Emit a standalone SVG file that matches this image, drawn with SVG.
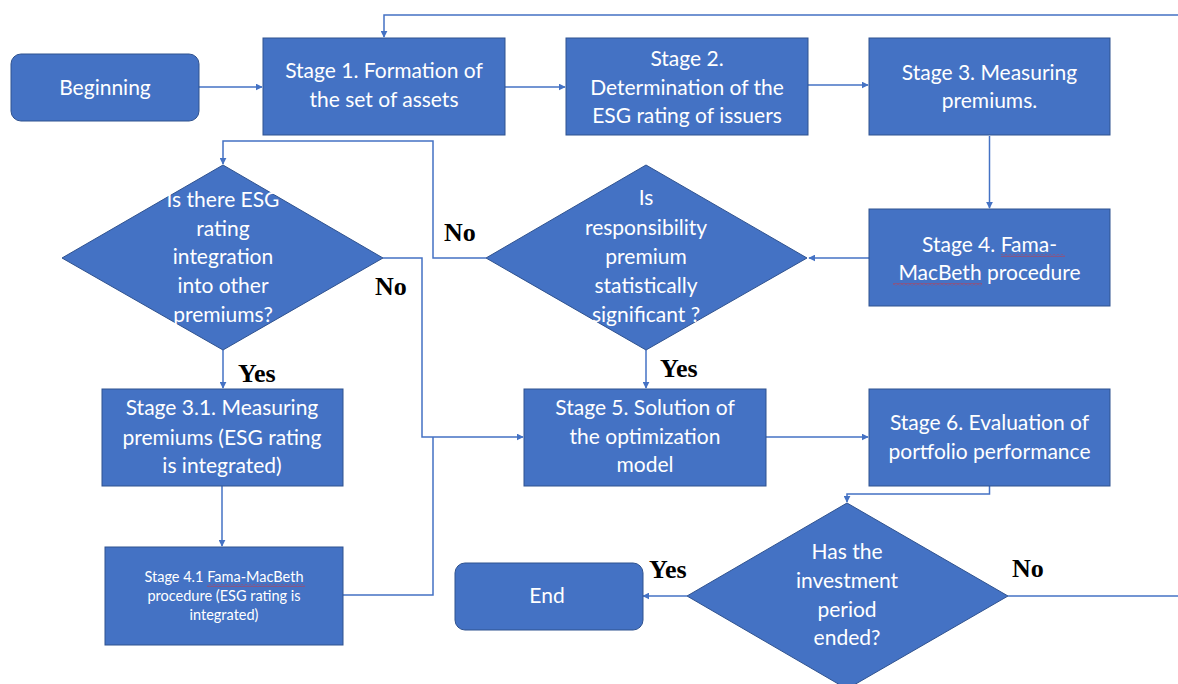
<svg xmlns="http://www.w3.org/2000/svg" width="1178" height="684" viewBox="0 0 1178 684">
<defs>
<marker id="arr" viewBox="0 0 10 10" refX="9" refY="5" markerWidth="7" markerHeight="7" markerUnits="userSpaceOnUse" orient="auto">
<path d="M0,0 L10,5 L0,10 z" fill="#4472C4"/>
</marker>
<pattern id="wave" width="4" height="3" patternUnits="userSpaceOnUse">
<path d="M0,0.5 L2,2.5 L4,0.5" stroke="#E03030" fill="none" stroke-width="0.8"/>
</pattern>
<style>
.box{fill:#4472C4;stroke:#2F528F;stroke-width:1}
.t{fill:#fff;font-family:Lato,"Noto Sans",sans-serif;font-size:21px;text-anchor:middle}
.s{font-size:14.5px}
.lbl{fill:#000;font-family:"Liberation Serif",serif;font-weight:bold;font-size:26px}
.c{fill:none;stroke:#4472C4;stroke-width:1.5}
</style>
</defs>
<rect width="1178" height="684" fill="#fff"/>
<g id="connectors">
<path class="c" d="M1178,15 H384 V37" marker-end="url(#arr)"/>
<path class="c" d="M199,87 H262" marker-end="url(#arr)"/>
<path class="c" d="M505,87 H565" marker-end="url(#arr)"/>
<path class="c" d="M808,85 H868" marker-end="url(#arr)"/>
<path class="c" d="M989.5,136 V208" marker-end="url(#arr)"/>
<path class="c" d="M869,258 H809" marker-end="url(#arr)"/>
<path class="c" d="M486,258 H433 V141 H223 V164" marker-end="url(#arr)"/>
<path class="c" d="M383,258 H422 V437 H523" marker-end="url(#arr)"/>
<path class="c" d="M343,595 H433 V437"/>
<path class="c" d="M223,350 V388" marker-end="url(#arr)"/>
<path class="c" d="M222,486 V546" marker-end="url(#arr)"/>
<path class="c" d="M646,350 V388" marker-end="url(#arr)"/>
<path class="c" d="M766,437 H868" marker-end="url(#arr)"/>
<path class="c" d="M989.5,486 V494 H847 V502" marker-end="url(#arr)"/>
<path class="c" d="M687,596 H643" marker-end="url(#arr)"/>
<path class="c" d="M1008,596 H1178"/>
</g>
<g id="beginning">
<rect class="box" x="11" y="54" width="188" height="67" rx="10"/>
<text class="t" x="105" y="95">Beginning</text>
</g>
<g id="stage1">
<rect class="box" x="263" y="38" width="242" height="97"/>
<text class="t" x="384" y="78">Stage 1. Formation of</text>
<text class="t" x="384" y="107">the set of assets</text>
</g>
<g id="stage2">
<rect class="box" x="566" y="38" width="242" height="97"/>
<text class="t" x="687" y="66">Stage 2.</text>
<text class="t" x="687" y="95">Determination of the</text>
<text class="t" x="687" y="123">ESG rating of issuers</text>
</g>
<g id="stage3">
<rect class="box" x="869" y="38" width="241" height="97"/>
<text class="t" x="989.5" y="80">Stage 3. Measuring</text>
<text class="t" x="989.5" y="108">premiums.</text>
</g>
<g id="stage4">
<rect class="box" x="869" y="209" width="241" height="97"/>
<text class="t" x="989.5" y="252">Stage 4. Fama-</text>
<text class="t" x="989.5" y="280">MacBeth procedure</text>
<rect x="1001" y="254" width="64" height="3" fill="url(#wave)"/>
<rect x="893" y="283" width="89" height="3" fill="url(#wave)"/>
</g>
<g id="decision-integration">
<polygon class="box" points="223,165 383,258 223,350 62,258"/>
<text class="t" x="223" y="207">Is there ESG</text>
<text class="t" x="223" y="236">rating</text>
<text class="t" x="223" y="264">integration</text>
<text class="t" x="223" y="293">into other</text>
<text class="t" x="223" y="322">premiums?</text>
</g>
<g id="decision-significant">
<polygon class="box" points="646,165 807,258 646,350 486,258"/>
<text class="t" x="646" y="205">Is</text>
<text class="t" x="646" y="235">responsibility</text>
<text class="t" x="646" y="264">premium</text>
<text class="t" x="646" y="293">statistically</text>
<text class="t" x="646" y="322">significant ?</text>
</g>
<g id="stage3-1">
<rect class="box" x="102" y="389" width="241" height="97"/>
<text class="t" x="222" y="415">Stage 3.1. Measuring</text>
<text class="t" x="222" y="445">premiums (ESG rating</text>
<text class="t" x="222" y="473">is integrated)</text>
</g>
<g id="stage4-1">
<rect class="box" x="105" y="547" width="238" height="98"/>
<text class="t s" x="224" y="582">Stage 4.1 Fama-MacBeth</text>
<text class="t s" x="224" y="601">procedure (ESG rating is</text>
<text class="t s" x="224" y="620">integrated)</text>
<rect x="207" y="584" width="98" height="3" fill="url(#wave)"/>
</g>
<g id="stage5">
<rect class="box" x="524" y="389" width="242" height="97"/>
<text class="t" x="645" y="415">Stage 5. Solution of</text>
<text class="t" x="645" y="444">the optimization</text>
<text class="t" x="645" y="472">model</text>
</g>
<g id="stage6">
<rect class="box" x="869" y="389" width="241" height="97"/>
<text class="t" x="989.5" y="430">Stage 6. Evaluation of</text>
<text class="t" x="989.5" y="459">portfolio performance</text>
</g>
<g id="decision-ended">
<polygon class="box" points="847,503 1008,596 847,689 687,596"/>
<text class="t" x="847" y="559">Has the</text>
<text class="t" x="847" y="588">investment</text>
<text class="t" x="847" y="617">period</text>
<text class="t" x="847" y="645">ended?</text>
</g>
<g id="end">
<rect class="box" x="455" y="563" width="188" height="67" rx="10"/>
<text class="t" x="547" y="603">End</text>
</g>
<g id="labels">
<text class="lbl" x="444" y="241">No</text>
<text class="lbl" x="375" y="295">No</text>
<text class="lbl" x="238" y="382">Yes</text>
<text class="lbl" x="660" y="377">Yes</text>
<text class="lbl" x="649" y="578">Yes</text>
<text class="lbl" x="1012" y="577">No</text>
</g>
</svg>
